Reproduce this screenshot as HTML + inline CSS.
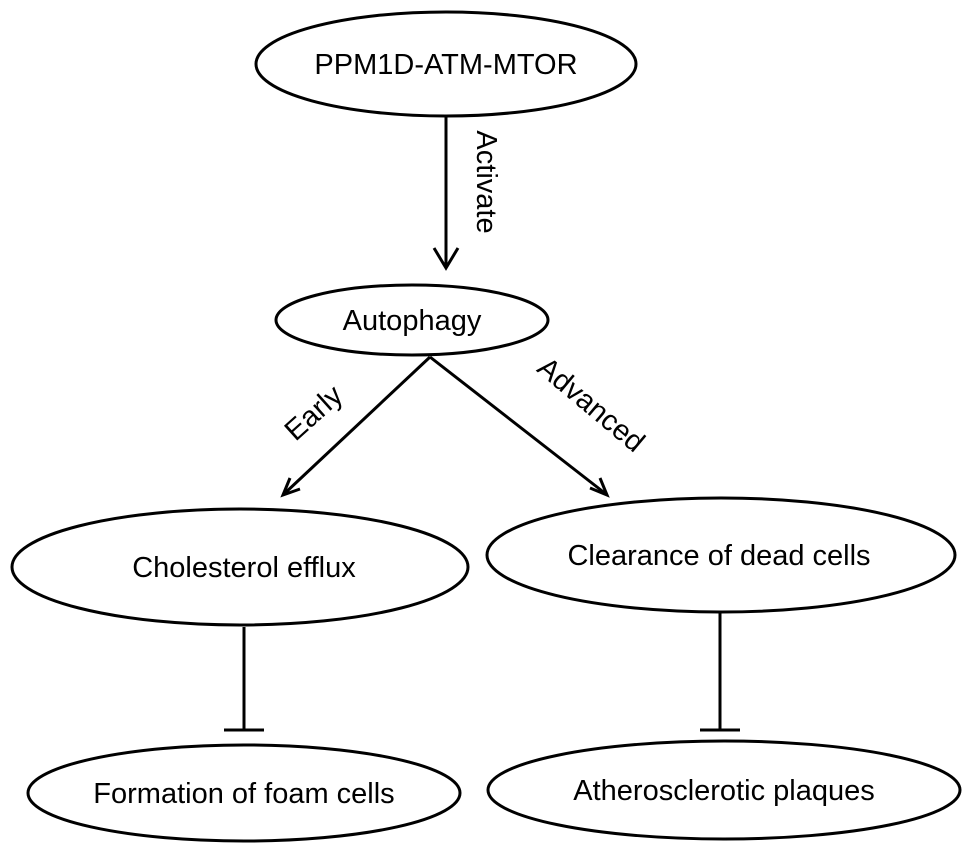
<!DOCTYPE html>
<html><head><style>body{margin:0;background:#fff}svg{display:block}</style></head><body>
<svg width="969" height="854" viewBox="0 0 969 854" xmlns="http://www.w3.org/2000/svg" font-family="Liberation Sans, Arial, sans-serif" font-size="29" fill="none" stroke="#000" stroke-width="3">
<ellipse cx="446" cy="64" rx="190" ry="52"/>
<ellipse cx="412" cy="320" rx="136" ry="35"/>
<ellipse cx="240" cy="567" rx="228" ry="58"/>
<ellipse cx="721" cy="555" rx="234" ry="57"/>
<ellipse cx="244" cy="793" rx="216" ry="48"/>
<ellipse cx="724" cy="790" rx="236" ry="49"/>
<line x1="446" y1="116" x2="446" y2="266"/>
<polyline points="434,248 446,268 458,248"/>
<line x1="430" y1="357" x2="284" y2="494"/>
<polyline points="290,478 283,495 300,489"/>
<line x1="430" y1="357" x2="606" y2="494"/>
<polyline points="590,488 607,495 600,478"/>
<line x1="244" y1="627" x2="244" y2="730"/>
<line x1="224" y1="730" x2="264" y2="730"/>
<line x1="720" y1="612" x2="720" y2="730"/>
<line x1="700" y1="730" x2="740" y2="730"/>
<g fill="#000" stroke="none">
<text x="446" y="74" text-anchor="middle">PPM1D-ATM-MTOR</text>
<text x="412" y="330" text-anchor="middle">Autophagy</text>
<text x="244" y="577" text-anchor="middle">Cholesterol efflux</text>
<text x="719" y="565" text-anchor="middle">Clearance of dead cells</text>
<text x="244" y="803" text-anchor="middle">Formation of foam cells</text>
<text x="724" y="800" text-anchor="middle">Atherosclerotic plaques</text>
<text transform="translate(477,182) rotate(90)" text-anchor="middle">Activate</text>
<text transform="translate(320,420) rotate(-42)" text-anchor="middle">Early</text>
<text transform="translate(585,412) rotate(40)" text-anchor="middle">Advanced</text>
</g>
</svg>
</body></html>
